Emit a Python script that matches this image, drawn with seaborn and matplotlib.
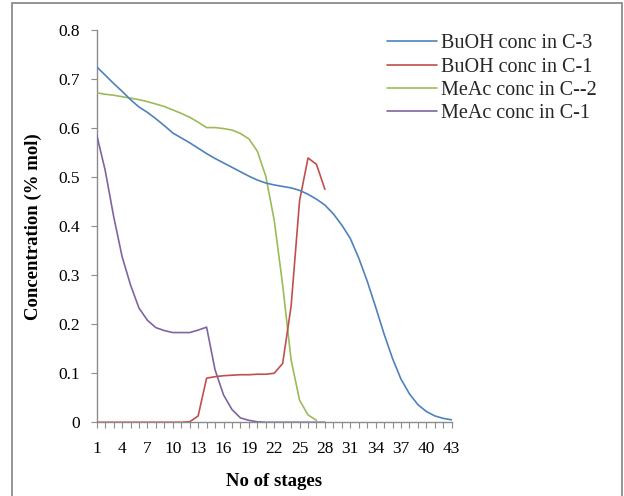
import numpy as np
import pandas as pd
import seaborn as sns
import matplotlib
matplotlib.use("Agg")
import matplotlib.pyplot as plt
from matplotlib.patches import Rectangle
from matplotlib.ticker import FuncFormatter, MultipleLocator

# ---- data ----
stages = list(range(1, 44))

buoh_c3 = [0.725, 0.708, 0.691, 0.675, 0.658, 0.643, 0.632, 0.619, 0.605, 0.590,
           0.580, 0.570, 0.559, 0.548, 0.538, 0.529, 0.520, 0.511, 0.502, 0.494,
           0.488, 0.484, 0.481, 0.478, 0.473, 0.465, 0.455, 0.443, 0.425, 0.402,
           0.375, 0.335, 0.288, 0.235, 0.180, 0.130, 0.088, 0.058, 0.036, 0.022,
           0.013, 0.008, 0.005]

buoh_c1 = [0, 0, 0, 0, 0, 0, 0, 0, 0, 0, 0, 0.001, 0.013, 0.090, 0.093, 0.095,
           0.096, 0.097, 0.097, 0.098, 0.098, 0.100, 0.120, 0.237, 0.452, 0.539,
           0.526, 0.475]

meac_c2 = [0.672, 0.669, 0.667, 0.664, 0.661, 0.658, 0.654, 0.649, 0.644, 0.637,
           0.630, 0.622, 0.612, 0.601, 0.601, 0.599, 0.596, 0.589, 0.578, 0.553,
           0.502, 0.412, 0.280, 0.127, 0.045, 0.015, 0.004]

meac_c1 = [0.586, 0.514, 0.420, 0.338, 0.280, 0.233, 0.208, 0.193, 0.187, 0.183,
           0.183, 0.183, 0.188, 0.194, 0.107, 0.056, 0.026, 0.009, 0.004, 0.001,
           0, 0, 0, 0, 0, 0, 0, 0]

series = [
    ("BuOH conc in C-3", buoh_c3, "#4f81bd"),
    ("BuOH conc in C-1", buoh_c1, "#c0504d"),
    ("MeAc conc in C--2", meac_c2, "#9bbb59"),
    ("MeAc conc in C-1", meac_c1, "#8064a2"),
]

sns.set_theme(style="white")
plt.rcParams["font.family"] = ["Liberation Serif", "DejaVu Serif"]

fig = plt.figure(figsize=(6.24, 4.96), dpi=100)
ax = fig.add_axes([0.155, 0.1486, 0.5689, 0.7909])

# draw purple/green first so red and blue sit on top like in the original
order = [3, 2, 1, 0]
for i in order:
    name, vals, col = series[i]
    df = pd.DataFrame({"stage": stages[:len(vals)], "conc": vals})
    sns.lineplot(data=df, x="stage", y="conc", ax=ax, color=col, linewidth=1.2,
                 label=name, zorder=3 + (3 - i))

ax.set_xlim(1, 43)
ax.set_ylim(0, 0.8)

# category-style x axis: tick at every stage, label every third
ax.set_xticks(stages[::3])
ax.set_xticks(stages, minor=True)
ax.yaxis.set_major_locator(MultipleLocator(0.1))
ax.yaxis.set_major_formatter(FuncFormatter(lambda v, p: "0" if abs(v) < 1e-9 else f"{v:.1f}"))

grey = "#8c8c8c"
for side in ["top", "right"]:
    ax.spines[side].set_visible(False)
for side in ["left", "bottom"]:
    ax.spines[side].set_color(grey)
    ax.spines[side].set_linewidth(1.0)

ax.tick_params(axis="x", which="both", direction="out", length=4.3, width=0.8,
               color=grey, bottom=True, pad=9, labelsize=12.5, labelcolor="black")
ax.tick_params(axis="x", which="minor", labelbottom=False)
ax.tick_params(axis="y", which="major", direction="out", length=4.3, width=0.8,
               color=grey, left=True, pad=8, labelsize=12.5, labelcolor="black")

ax.set_xlabel("No of stages", fontsize=13.5, fontweight="bold", color="black")
ax.set_ylabel("Concentration (% mol)", fontsize=13.5, fontweight="bold", color="black")
ax.xaxis.set_label_coords(0.5, -0.13)
ax.yaxis.set_label_coords(-0.155, 0.5)
ax.grid(False)

# legend to the right of the plot, in original series order
handles, labels = ax.get_legend_handles_labels()
lookup = dict(zip(labels, handles))
names = [s[0] for s in series]
ax.legend([lookup[n] for n in names], names, loc="upper left",
          bbox_to_anchor=(0.607, 0.947), bbox_transform=fig.transFigure,
          frameon=False, fontsize=14.5, handlelength=2.5, handletextpad=0.2,
          labelspacing=0.2, borderaxespad=0)

# chart area border (bottom edge falls outside the picture)
fig.patches.append(Rectangle((12 / 624, -0.02), 610 / 624, 1.02 - 3 / 496,
                             transform=fig.transFigure, fill=False,
                             edgecolor=grey, linewidth=1.3))

fig.savefig("out.png", dpi=100)
